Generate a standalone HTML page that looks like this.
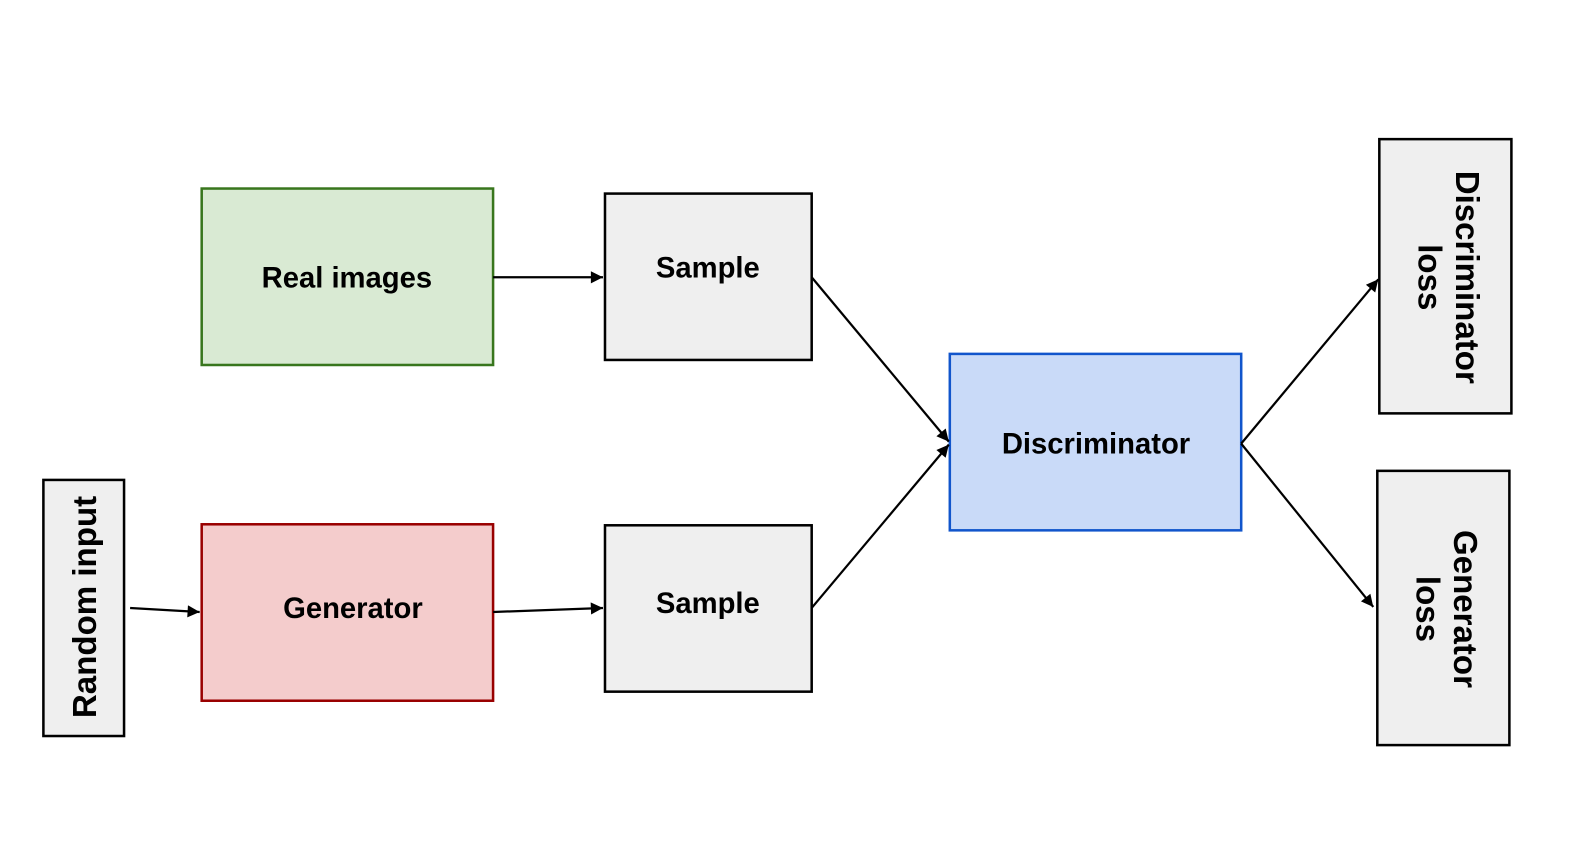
<!DOCTYPE html>
<html><head><style>
html,body{margin:0;padding:0;background:#fff;}
svg text{font-family:"Liberation Sans",Arial,sans-serif;font-weight:bold;font-size:29px;fill:#000;}
svg text.r{font-size:32.8px;}
</style></head><body>
<svg width="1579" height="856" viewBox="0 0 1566 849" xmlns="http://www.w3.org/2000/svg">
<defs>
<marker id="b" viewBox="0 0 10 10" markerWidth="16" markerHeight="12" refX="10" refY="5" orient="auto" markerUnits="userSpaceOnUse"><path d="M0,0 L10,5 L0,10 z"/></marker></defs>
<rect x="200" y="187" width="289" height="175" fill="#d9ead3" stroke="#38761d" stroke-width="2.5"/>
<text x="344" y="285" text-anchor="middle">Real images</text>
<rect x="200" y="520" width="289" height="175" fill="#f4cccc" stroke="#990000" stroke-width="2.5"/>
<text x="350" y="613" text-anchor="middle">Generator</text>
<rect x="43" y="476" width="80" height="254" fill="#efefef" stroke="#000" stroke-width="2.5"/>
<text class="r" transform="translate(95,602) rotate(-90)" text-anchor="middle">Random input</text>
<rect x="600" y="192" width="205" height="165" fill="#efefef" stroke="#000" stroke-width="2.5"/>
<text x="702" y="275" text-anchor="middle">Sample</text>
<rect x="600" y="521" width="205" height="165" fill="#efefef" stroke="#000" stroke-width="2.5"/>
<text x="702" y="608" text-anchor="middle">Sample</text>
<rect x="942" y="351" width="289" height="175" fill="#c9daf8" stroke="#1155cc" stroke-width="2.5"/>
<text x="1087" y="450" text-anchor="middle">Discriminator</text>
<rect x="1368" y="138" width="131" height="272" fill="#efefef" stroke="#000" stroke-width="2.5"/>
<text class="r" transform="translate(1433,275) rotate(90)" text-anchor="middle"><tspan x="0" dy="-11">Discriminator</tspan><tspan x="0" dy="37">loss</tspan></text>
<rect x="1366" y="467" width="131" height="272" fill="#efefef" stroke="#000" stroke-width="2.5"/>
<text class="r" transform="translate(1431,604) rotate(90)" text-anchor="middle"><tspan x="0" dy="-11">Generator</tspan><tspan x="0" dy="37">loss</tspan></text>
<g stroke="#000" stroke-width="2.2" fill="none">
<line x1="489" y1="275" x2="598" y2="275" marker-end="url(#b)"/>
<line x1="129" y1="603" x2="198" y2="607" marker-end="url(#b)"/>
<line x1="489" y1="607" x2="598" y2="603" marker-end="url(#b)"/>
<line x1="805" y1="275" x2="941" y2="438" marker-end="url(#b)"/>
<line x1="805" y1="603" x2="941" y2="441" marker-end="url(#b)"/>
<line x1="1231" y1="440" x2="1367" y2="277" marker-end="url(#b)"/>
<line x1="1231" y1="440" x2="1362" y2="602" marker-end="url(#b)"/>
</g>
</svg>
</body></html>
